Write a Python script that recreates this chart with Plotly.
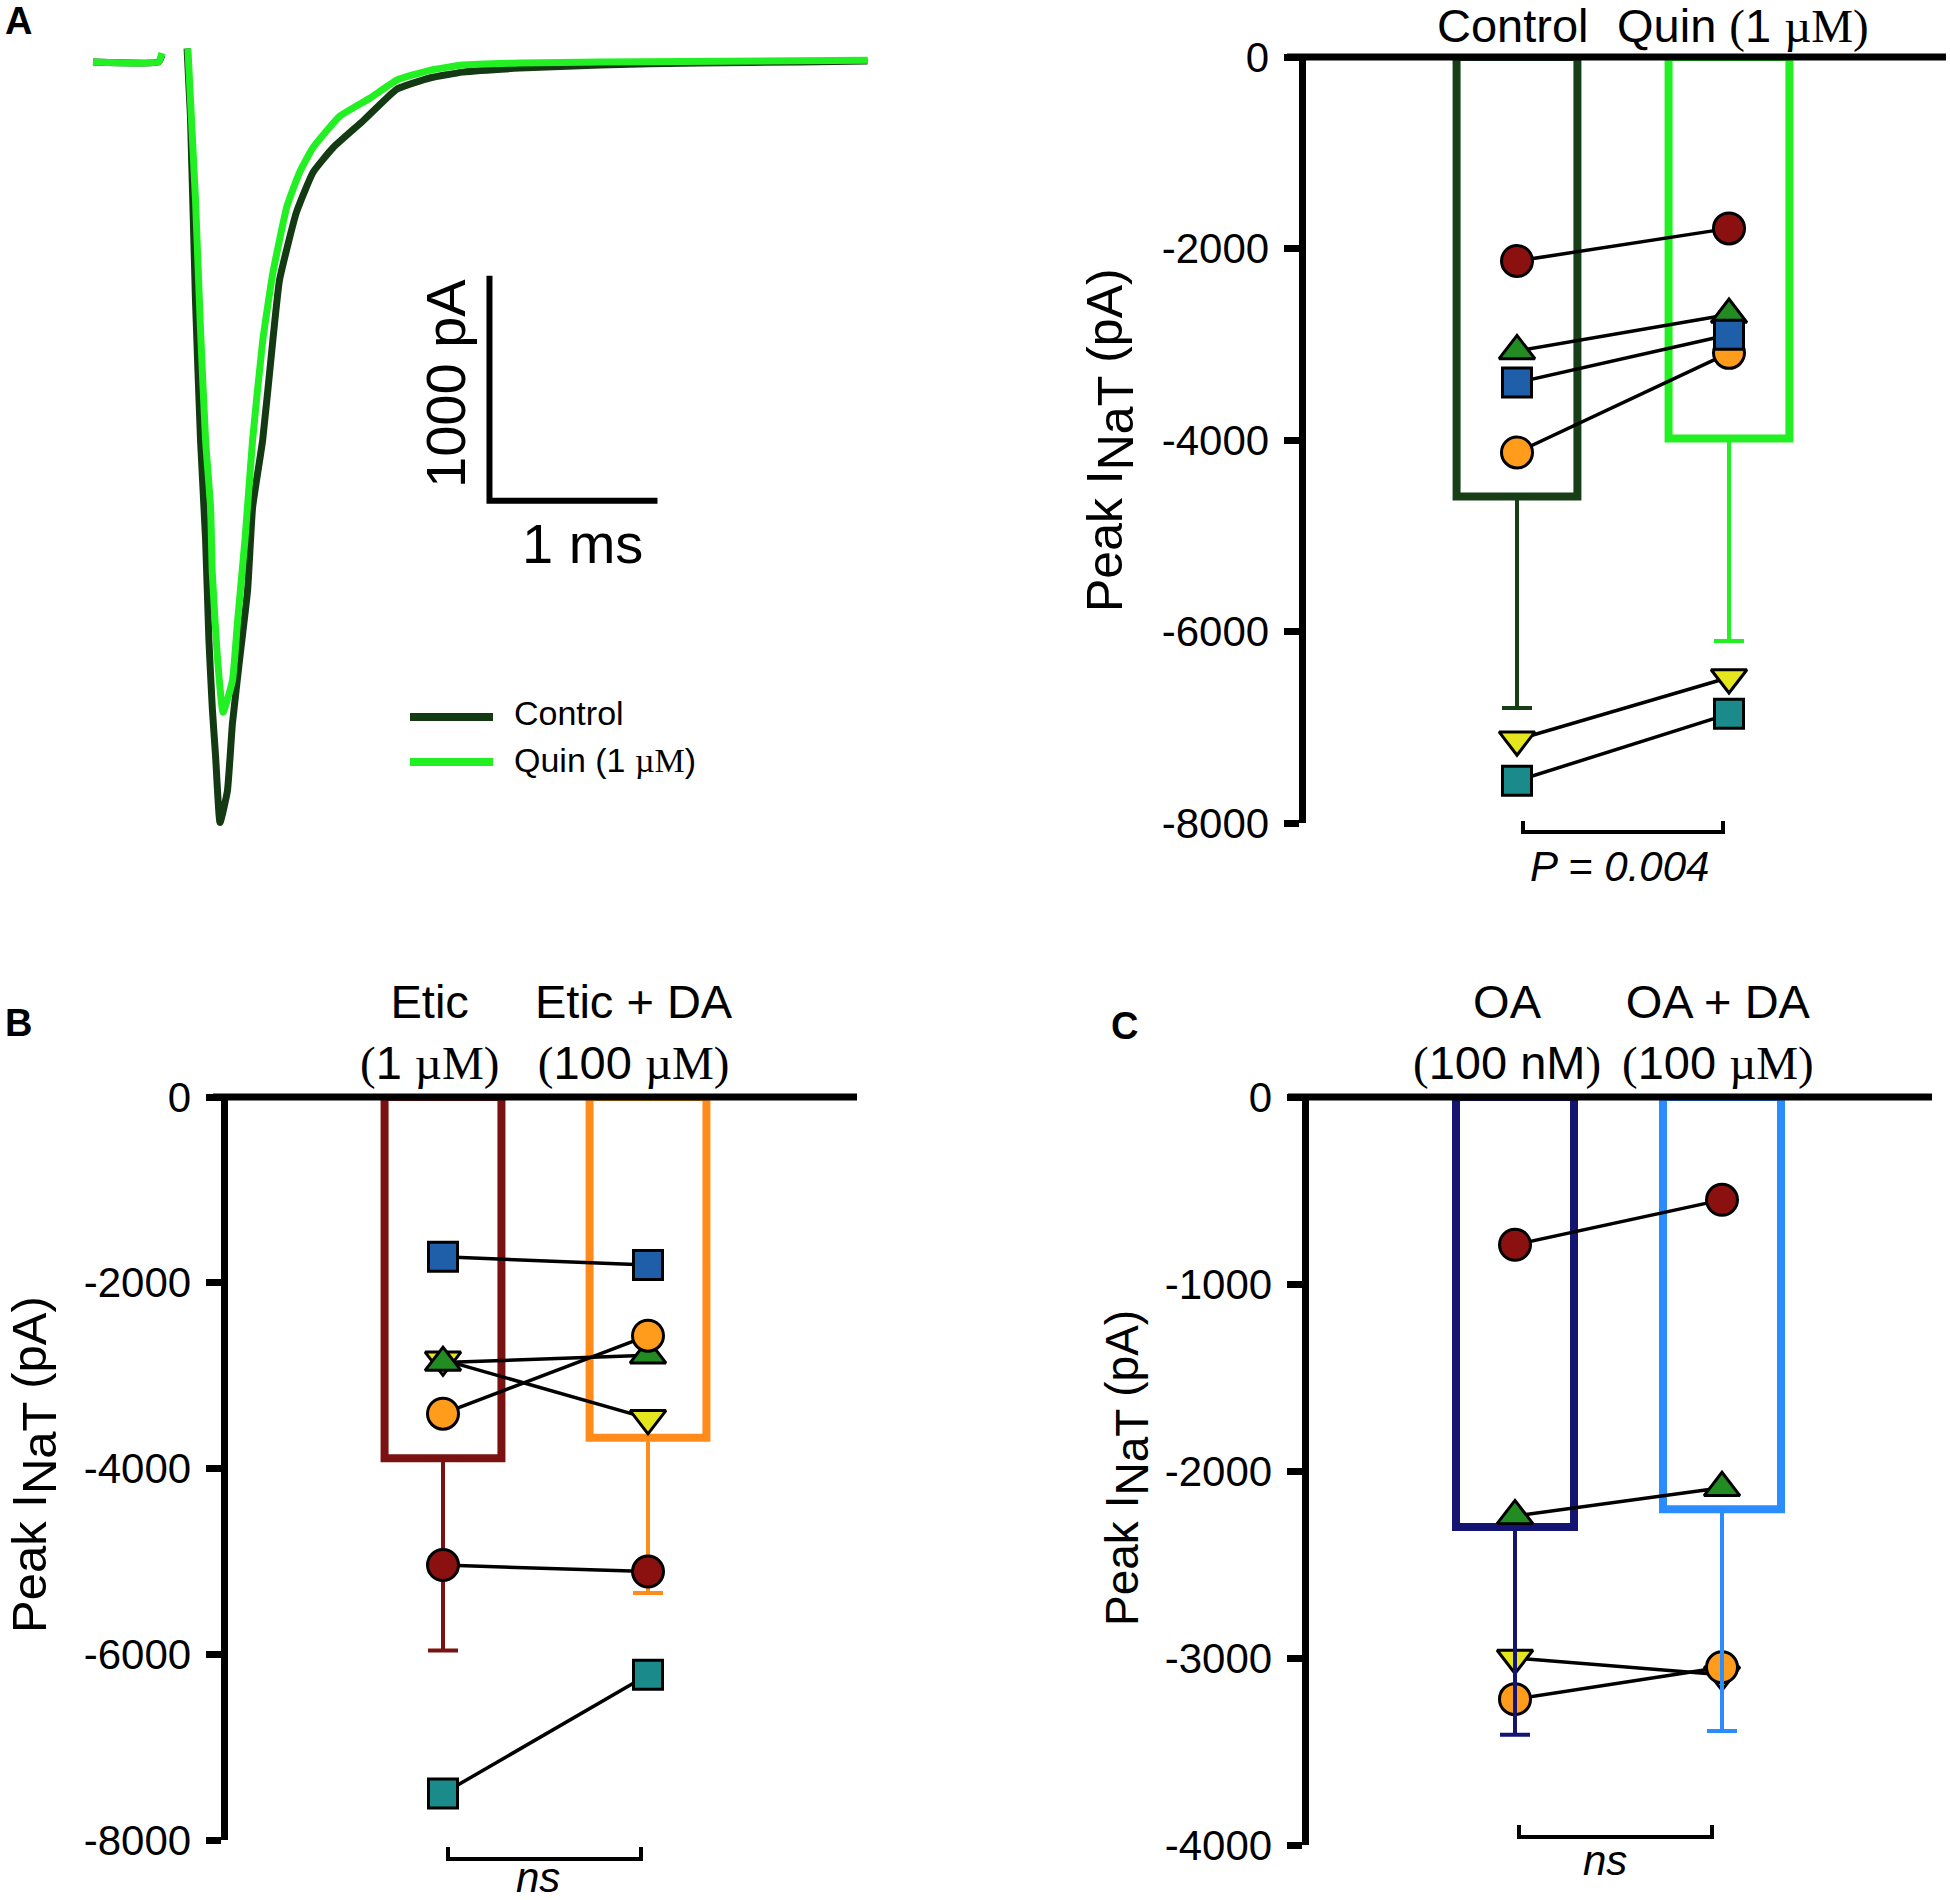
import plotly.graph_objects as go

W, H = 1950, 1900
SANS = "Liberation Sans"
SERIF = "Liberation Serif"

# ---------------- data ----------------
# panel A: representative I_NaT traces (time in ms, current in pA)
t_control = [0, 0.39, 0.41, None, 0.56, 0.58, 0.61, 0.64, 0.67, 0.69, 0.71, 0.73, 0.756,
             0.80, 0.83, 0.875, 0.92, 0.95, 1.01, 1.07, 1.11, 1.21, 1.31, 1.43, 1.61,
             1.81, 2.01, 2.20, 2.54, 3.02, 3.61, 4.21, 4.61]
i_control = [0, 0, 30, None, 60, -240, -1060, -1680, -2120, -2570, -2870, -3090, -3380,
             -3240, -2940, -2640, -2350, -1980, -1680, -1240, -970, -670, -490, -380, -260,
             -120, -70, -45, -27, -13, -4, 0, 4]
t_quin = [0, 0.39, 0.41, None, 0.565, 0.61, 0.64, 0.67, 0.70, 0.71, 0.74, 0.774,
          0.83, 0.86, 0.905, 0.95, 1.01, 1.07, 1.155, 1.23, 1.31, 1.47, 1.65, 1.81,
          2.01, 2.20, 2.54, 3.02, 4.61]
i_quin = [0, 0, 40, None, 60, -610, -1190, -1680, -1980, -2270, -2640, -2890,
          -2750, -2490, -2120, -1680, -1240, -940, -640, -490, -380, -240, -160, -80,
          -36, -13, -4, 0, 8]
scale_ms = 1
scale_pa = 1000

# panel A (right): Control vs Quin, peak INaT (pA)
groups_quin = ["Control", "Quin (1 µM)"]
mean_quin = [-4590, -3985]
sd_quin = [2210, 2115]
quin_red = [-2130, -1790]
quin_green = [-3070, -2690]
quin_blue = [-3400, -2900]
quin_orange = [-4130, -3090]
quin_yellow = [-7130, -6480]
quin_teal = [-7560, -6860]

# panel B: Etic vs Etic + DA
groups_etic = ["Etic (1 µM)", "Etic + DA (100 µM)"]
mean_etic = [-3890, -3670]
sd_etic = [2070, 1670]
etic_blue = [-1720, -1810]
etic_yellow = [-2830, -3460]
etic_green = [-2860, -2780]
etic_orange = [-3410, -2570]
etic_red = [-5040, -5110]
etic_teal = [-7500, -6220]

# panel C: OA vs OA + DA
groups_oa = ["OA (100 nM)", "OA + DA (100 µM)"]
mean_oa = [-2300, -2205]
sd_oa = [1110, 1185]
oa_red = [-790, -550]
oa_green = [-2240, -2090]
oa_yellow = [-3000, -3090]
oa_orange = [-3220, -3050]

ticks_8000 = [0, -2000, -4000, -6000, -8000]
ticks_4000 = [0, -1000, -2000, -3000, -4000]

# ---------------- styles ----------------
RED = ("circle", "#8b1010", 31)
GREEN = ("triangle-up", "#228b22", 31)
BLUE = ("square", "#1f5ea8", 29)
ORANGE = ("circle", "#ff9c1c", 31)
YELLOW = ("triangle-down", "#e6e61e", 31)
TEAL = ("square", "#1a8a8a", 29)


def fx(px):
    return px / W


def fy(py):
    return 1 - py / H


fig = go.Figure()

# ---- panel A traces
T0_PX, MS_PX = 93, 168      # px of t=0, px per ms
BASE_PY, PA_PX = 62, 0.225  # px of 0 pA, px per pA

fig.add_trace(go.Scatter(x=t_control, y=i_control, mode="lines",
                         line=dict(color="#133a13", width=7, shape="spline", smoothing=0.4),
                         xaxis="x", yaxis="y", connectgaps=False))
fig.add_trace(go.Scatter(x=t_quin, y=i_quin, mode="lines",
                         line=dict(color="#22f022", width=7, shape="spline", smoothing=0.4),
                         xaxis="x", yaxis="y", connectgaps=False))


def bar_panel(ax, means, sds, colors, cells, err_on_top=False):
    xa, ya = "x" + ax, "y" + ax
    for k in range(2):
        err = dict(type="data", symmetric=False, array=[0], arrayminus=[sds[k]],
                   color=colors[k], thickness=4, width=15)
        fig.add_trace(go.Bar(x=[k], y=[means[k]], width=0.57,
                             marker=dict(color="rgba(0,0,0,0)",
                                         line=dict(color=colors[k], width=8)),
                             error_y=None if err_on_top else err,
                             xaxis=xa, yaxis=ya))
    for vals, (sym, col, sz) in cells:
        fig.add_trace(go.Scatter(x=[0, 1], y=vals, mode="lines+markers",
                                 line=dict(color="black", width=3.5),
                                 marker=dict(symbol=sym, size=sz, color=col,
                                             line=dict(color="black", width=3)),
                                 xaxis=xa, yaxis=ya))
    if err_on_top:
        for k in range(2):
            fig.add_trace(go.Scatter(x=[k], y=[means[k]], mode="markers",
                                     marker=dict(size=1, color="rgba(0,0,0,0)"),
                                     error_y=dict(type="data", symmetric=False, array=[0],
                                                  arrayminus=[sds[k]], color=colors[k],
                                                  thickness=4, width=15),
                                     xaxis=xa, yaxis=ya))


bar_panel("2", mean_quin, sd_quin, ["#173f17", "#22f022"],
          [(quin_orange, ORANGE), (quin_green, GREEN), (quin_blue, BLUE),
           (quin_red, RED), (quin_yellow, YELLOW), (quin_teal, TEAL)])
bar_panel("3", mean_etic, sd_etic, ["#7a1212", "#ff8c1a"],
          [(etic_blue, BLUE), (etic_yellow, YELLOW), (etic_green, GREEN),
           (etic_orange, ORANGE), (etic_red, RED), (etic_teal, TEAL)])
bar_panel("4", mean_oa, sd_oa, ["#141473", "#2b8cff"],
          [(oa_red, RED), (oa_green, GREEN), (oa_yellow, YELLOW), (oa_orange, ORANGE)],
          err_on_top=True)


def yaxis_style(domain_py, rng, ticks, anchor):
    return dict(domain=[fy(domain_py[1]), fy(domain_py[0])], range=rng, anchor=anchor,
                showline=True, linewidth=7, linecolor="black",
                ticks="outside", ticklen=15, tickwidth=7, tickcolor="black",
                tickvals=ticks, ticktext=["%d" % v for v in ticks],
                tickfont=dict(family=SANS, size=42, color="black"),
                ticklabelstandoff=6, showgrid=False, zeroline=False, automargin=False)


def xaxis_style(px0, px1, c0, step, anchor):
    return dict(domain=[fx(px0), fx(px1)], range=[(px0 - c0) / step, (px1 - c0) / step],
                anchor=anchor, visible=False, showgrid=False, zeroline=False,
                automargin=False)


layout = dict(
    width=W, height=H, margin=dict(l=0, r=0, t=0, b=0, pad=0, autoexpand=False),
    paper_bgcolor="white", plot_bgcolor="white",
    showlegend=False, barmode="overlay",
    xaxis=dict(domain=[fx(80), fx(880)],
               range=[(80 - T0_PX) / MS_PX, (880 - T0_PX) / MS_PX],
               visible=False, anchor="y", automargin=False),
    yaxis=dict(domain=[fy(880), fy(40)],
               range=[-(880 - BASE_PY) / PA_PX, (BASE_PY - 40) / PA_PX],
               visible=False, anchor="x", automargin=False),
    xaxis2=xaxis_style(1305.5, 1946, 1517, 212, "y2"),
    yaxis2=yaxis_style((57, 823), [-8000, 0], ticks_8000, "x2"),
    xaxis3=xaxis_style(227.5, 857, 443, 205, "y3"),
    yaxis3=yaxis_style((1097, 1840), [-8000, 0], ticks_8000, "x3"),
    xaxis4=xaxis_style(1308.5, 1932, 1515, 207, "y4"),
    yaxis4=yaxis_style((1097, 1845), [-4000, 0], ticks_4000, "x4"),
)
fig.update_layout(**layout)

shapes = []


def pline(x0, y0, x1, y1, color="black", width=7):
    shapes.append(dict(type="line", xref="paper", yref="paper", layer="above",
                       x0=fx(x0), y0=fy(y0), x1=fx(x1), y1=fy(y1),
                       line=dict(color=color, width=width)))


# zero lines
pline(1287, 57, 1946, 57)
pline(213, 1097, 857, 1097)
pline(1288, 1097, 1932, 1097)

# significance brackets
for x0, x1, ytop, ybar in [(1523, 1723, 821, 832), (448, 641, 1847, 1859), (1519, 1712, 1825, 1837)]:
    shapes.append(dict(type="path", xref="paper", yref="paper", layer="above",
                       path="M %f,%f L %f,%f L %f,%f L %f,%f" % (
                           fx(x0), fy(ytop), fx(x0), fy(ybar), fx(x1), fy(ybar), fx(x1), fy(ytop)),
                       line=dict(color="black", width=4)))

# legend keys for panel A traces
pline(410, 717, 493, 717, color="#133a13", width=8)
pline(410, 762, 493, 762, color="#22f022", width=8)

# scale bar (data units of the trace axes)
sb_t, sb_i = 2.36, -1950
shapes.append(dict(type="path", xref="x", yref="y", layer="above",
                   path="M %f,%f L %f,%f L %f,%f" % (sb_t, sb_i + scale_pa, sb_t, sb_i,
                                                    sb_t + scale_ms, sb_i),
                   line=dict(color="black", width=6)))

annotations = []


def ann(text, px, py, size, xanchor="center", angle=0, family=SANS, **kw):
    annotations.append(dict(text=text, x=fx(px), y=fy(py), xref="paper", yref="paper",
                            showarrow=False, xanchor=xanchor, yanchor="middle",
                            textangle=angle,
                            font=dict(family=family, size=size, color="black"), **kw))


def serif(s):
    return '<span style="font-family:%s">%s</span>' % (SERIF, s)


def um(label):
    # "(1 µM)" style label: parentheses and unit in serif
    num, unit = label.strip("()").split(" ")
    if unit == "µM":
        return serif("(") + num + " " + serif("µM)")
    return serif("(") + num + " " + unit + serif(")")


# panel letters
ann("<b>A</b>", 18, 21, 38)
ann("<b>B</b>", 18, 1023, 38)
ann("<b>C</b>", 1124, 1026, 38)

# panel A headers
ann(groups_quin[0], 1513, 26, 47)
ann("Quin " + um("(1 µM)"), 1743, 26, 47)

# panel B / C two-line headers
for txt, px in [(groups_etic[0], 429), (groups_etic[1], 634), (groups_oa[0], 1507), (groups_oa[1], 1718)]:
    name, conc = txt.rsplit(" (", 1)
    ann(name + "<br>" + um("(" + conc), px, 1032, 47)

# y titles
ytitle = 'Peak I<sub><span style="font-size:%dpx">NaT</span></sub> (pA)'
ann(ytitle % 50, 1110, 440, 50, angle=-90)
ann(ytitle % 49, 34, 1465, 49, angle=-90)
ann(ytitle % 46, 1127, 1468, 46, angle=-90)

# significance labels
ann("<i>P = 0.004</i>", 1619, 866, 42)
ann("<i>ns</i>", 538, 1877, 42)
ann("<i>ns</i>", 1605, 1860, 42)

# scale bar labels
ann("%d pA" % scale_pa, 445, 384, 56, angle=-90)
ann("%d ms" % scale_ms, 582, 543, 56)

# trace legend
ann("Control", 512, 713, 34, xanchor="left")
ann("Quin (1 " + serif("µM") + ")", 512, 760, 34, xanchor="left")

fig.update_layout(shapes=shapes, annotations=annotations)
fig.write_html("out.html", config={"displayModeBar": False},
               post_script="document.body.style.margin='0px';")
